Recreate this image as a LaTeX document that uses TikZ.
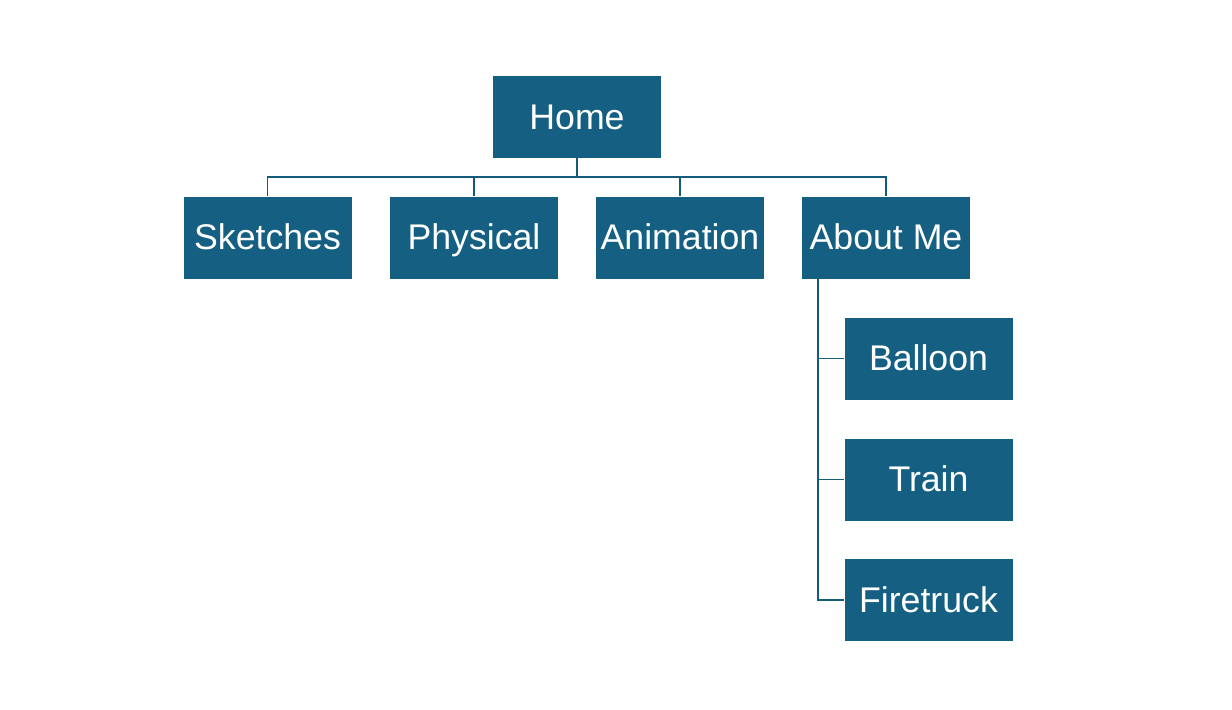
\documentclass[tikz,border=0pt]{standalone}
\usepackage{fontspec}
\setmainfont{Liberation Sans}
\definecolor{sitebox}{HTML}{156082}
\definecolor{siteline}{HTML}{145A7A}
\begin{document}
\begin{tikzpicture}[
        page/.style={fill=sitebox, text=white, minimum width=3.36cm, minimum height=1.64cm,
            inner sep=0pt, text height=17pt, text depth=3pt,
            font=\fontsize{20.3}{24}\selectfont},
        link/.style={draw=siteline, line width=1.1pt}
    ]
        \useasboundingbox (0,0) rectangle (24.64,-14.2);
        \node [page] (home) at (11.54,-2.34) {Home};
        \node [page] (sketches) at (5.35,-4.75) {Sketches};
        \node [page] (physical) at (9.48,-4.75) {Physical};
        \node [page] (animation) at (13.6,-4.75) {Animation};
        \node [page] (about) at (17.72,-4.75) {About Me};
        \node [page] (balloon) at (18.57,-7.17) {Balloon};
        \node [page] (train) at (18.57,-9.59) {Train};
        \node [page] (firetruck) at (18.57,-12.0) {Firetruck};
        \draw [link] (home.south) -- ++(0,-0.38) -| (sketches.north);
        \draw [link] (home.south) -- ++(0,-0.38) -| (physical.north);
        \draw [link] (home.south) -- ++(0,-0.38) -| (animation.north);
        \draw [link] (home.south) -- ++(0,-0.38) -| (about.north);
        \draw [link] ([xshift=0.32cm]about.south west) |- (balloon.west);
        \draw [link] ([xshift=0.32cm]about.south west) |- (train.west);
        \draw [link] ([xshift=0.32cm]about.south west) |- (firetruck.west);
    \end{tikzpicture}
\end{document}
